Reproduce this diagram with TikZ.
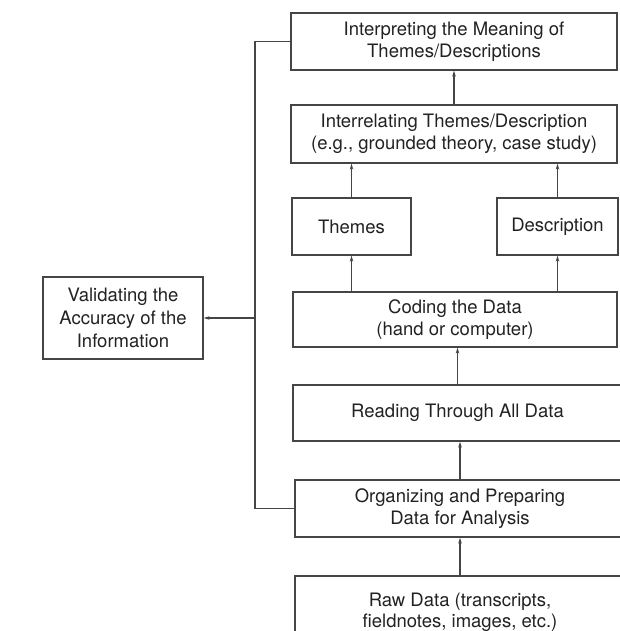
\documentclass[tikz,border=0pt]{standalone}
\usepackage{fontspec}
\setmainfont{TeX Gyre Heros}
\usetikzlibrary{arrows.meta}
\definecolor{linegray}{HTML}{454545}
\definecolor{textgray}{HTML}{222222}
\begin{document}
\begin{tikzpicture}[x=1pt,y=-1pt,
  box/.style={draw=linegray, line width=1.2pt, rectangle, inner sep=0pt, align=center,
    font=\fontsize{18.5}{21.5}\selectfont, text=textgray},
  arr/.style={draw=linegray, line width=1.1pt, -{Stealth[length=6pt,width=3.5pt]}},
  link/.style={draw=linegray, line width=1.1pt}]
\useasboundingbox[fill=white] (0,0) rectangle (620,631);
\clip (0,0) rectangle (620,631);

\node[box, minimum width=326pt, minimum height=57pt] (interp) at (454,41.5) {Interpreting the Meaning of\\Themes/Descriptions};
\node[box, minimum width=326pt, minimum height=58pt] (interrel) at (454,134) {Interrelating Themes/Description\\(e.g., grounded theory, case study)};
\node[box, minimum width=119pt, minimum height=57pt] (themes) at (351.5,226.5) {Themes};
\node[box, minimum width=121pt, minimum height=57pt] (descr) at (557.5,226.5) {Description};
\node[box, minimum width=324pt, minimum height=55pt] (coding) at (455,319.5) {Coding the Data\\(hand or computer)};
\node[box, minimum width=329pt, minimum height=56pt] (reading) at (457.5,413) {Reading Through All Data};
\node[box, minimum width=330pt, minimum height=73pt] (raw) at (460,612.5) {Raw Data (transcripts,\\fieldnotes, images, etc.)};
\node[box, minimum width=330pt, minimum height=57pt] (organ) at (460,508.5) {Organizing and Preparing\\Data for Analysis};
\node[box, minimum width=160pt, minimum height=82pt, font=\fontsize{18.5}{23}\selectfont] (valid) at (123,318) {Validating the\\Accuracy of the\\Information};

\draw[arr] (interrel.north) -- (interp.south);
\draw[arr] (themes.north) -- (themes.north |- interrel.south);
\draw[arr] (descr.north) -- (descr.north |- interrel.south);
\draw[arr] (themes.south |- coding.north) -- (themes.south);
\draw[arr] (descr.south |- coding.north) -- (descr.south);
\draw[arr] (reading.north) -- (reading.north |- coding.south);
\draw[arr] (organ.north) -- (organ.north |- reading.south);
\draw[arr] (raw.north) -- (organ.south);

\coordinate (ft) at (255,41.5);
\coordinate (fb) at (255,508.5);
\coordinate (fm) at (255,318);
\draw[link] (interp.west) -- (ft) -- (fb) -- (organ.west);
\draw[arr] (fm) -- (valid.east);
\end{tikzpicture}
\end{document}
